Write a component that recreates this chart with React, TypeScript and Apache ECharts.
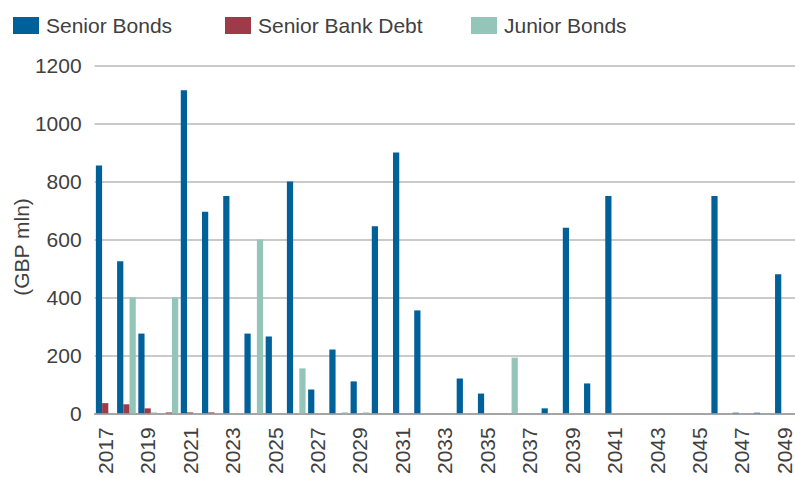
import React, { useEffect, useRef } from "react";
import * as echarts from "echarts";

const years = [
  "2017", "2018", "2019", "2020", "2021", "2022", "2023", "2024", "2025", "2026",
  "2027", "2028", "2029", "2030", "2031", "2032", "2033", "2034", "2035", "2036",
  "2037", "2038", "2039", "2040", "2041", "2042", "2043", "2044", "2045", "2046",
  "2047", "2048", "2049",
];

const seniorBonds = [
  855, 525, 275, 0, 1115, 695, 750, 275, 265, 800,
  82, 220, 110, 645, 900, 355, 0, 120, 68, 0,
  0, 17, 640, 103, 750, 0, 0, 0, 0, 750,
  2, 2, 480,
];

const seniorBankDebt = [
  35, 31, 17, 3, 3, 3, 0, 0, 0, 0,
  0, 0, 0, 0, 0, 0, 0, 0, 0, 0,
  0, 0, 0, 0, 0, 0, 0, 0, 0, 0,
  0, 0, 0,
];

const juniorBonds = [
  0, 400, 3, 400, 0, 0, 0, 600, 0, 155,
  0, 3, 3, 0, 0, 0, 0, 0, 0, 192,
  0, 0, 0, 0, 0, 0, 0, 0, 0, 0,
  0, 0, 0,
];

const seriesNames = ["Senior Bonds", "Senior Bank Debt", "Junior Bonds"];
const colors = ["#00609A", "#9E3B48", "#93C5B8"];

const FONT = "'Liberation Sans', Arial, sans-serif";
const TEXT = "#404040";

export default function App() {
  const ref = useRef<HTMLDivElement>(null);

  useEffect(() => {
    if (!ref.current) return;
    const chart = echarts.init(ref.current, undefined, { renderer: "svg" });
    const legendBase = {
      top: 15,
      padding: 0,
      itemWidth: 26,
      itemHeight: 17,
      icon: "rect",
      textStyle: { fontSize: 21, color: TEXT, fontFamily: FONT, padding: [0, 0, 0, 2] },
      selectedMode: false,
    };
    chart.setOption({
      animation: false,
      color: colors,
      textStyle: { fontFamily: FONT },
      legend: [
        { ...legendBase, left: 13, data: [seriesNames[0]] },
        { ...legendBase, left: 225, data: [seriesNames[1]] },
        { ...legendBase, left: 471, data: [seriesNames[2]] },
      ],
      grid: { left: 94.6, right: -3, top: 65.5, bottom: 60, containLabel: false },
      xAxis: {
        type: "category",
        data: years,
        axisLine: { show: true, lineStyle: { color: "#999999", width: 1.5 } },
        axisTick: { show: false },
        axisLabel: {
          interval: 1,
          rotate: 90,
          fontSize: 21,
          color: TEXT,
          fontFamily: FONT,
          margin: 14,
        },
      },
      yAxis: {
        type: "value",
        min: 0,
        max: 1200,
        interval: 200,
        axisLine: { show: false },
        axisTick: { show: false },
        axisLabel: {
          fontSize: 21,
          color: TEXT,
          fontFamily: FONT,
          margin: 13,
          formatter: (v: number) => String(v),
        },
        splitLine: { lineStyle: { color: "#b8b8b8", width: 1.5 } },
      },
      graphic: [
        {
          type: "text",
          x: 21,
          y: 247,
          rotation: Math.PI / 2,
          style: {
            text: "(GBP mln)",
            fontSize: 21,
            fill: TEXT,
            fontFamily: FONT,
            align: "center",
            verticalAlign: "middle",
          },
        },
      ],
      series: [
        { name: seriesNames[0], type: "bar", data: seniorBonds, barGap: "0%", barCategoryGap: "12%" },
        { name: seriesNames[1], type: "bar", data: seniorBankDebt, barGap: "0%", barCategoryGap: "12%" },
        { name: seriesNames[2], type: "bar", data: juniorBonds, barGap: "0%", barCategoryGap: "12%" },
      ],
    });
    return () => chart.dispose();
  }, []);

  return (
    <div
      ref={ref}
      style={{ position: "fixed", left: 0, top: 0, width: 795, height: 477, background: "#fff" }}
    />
  );
}
